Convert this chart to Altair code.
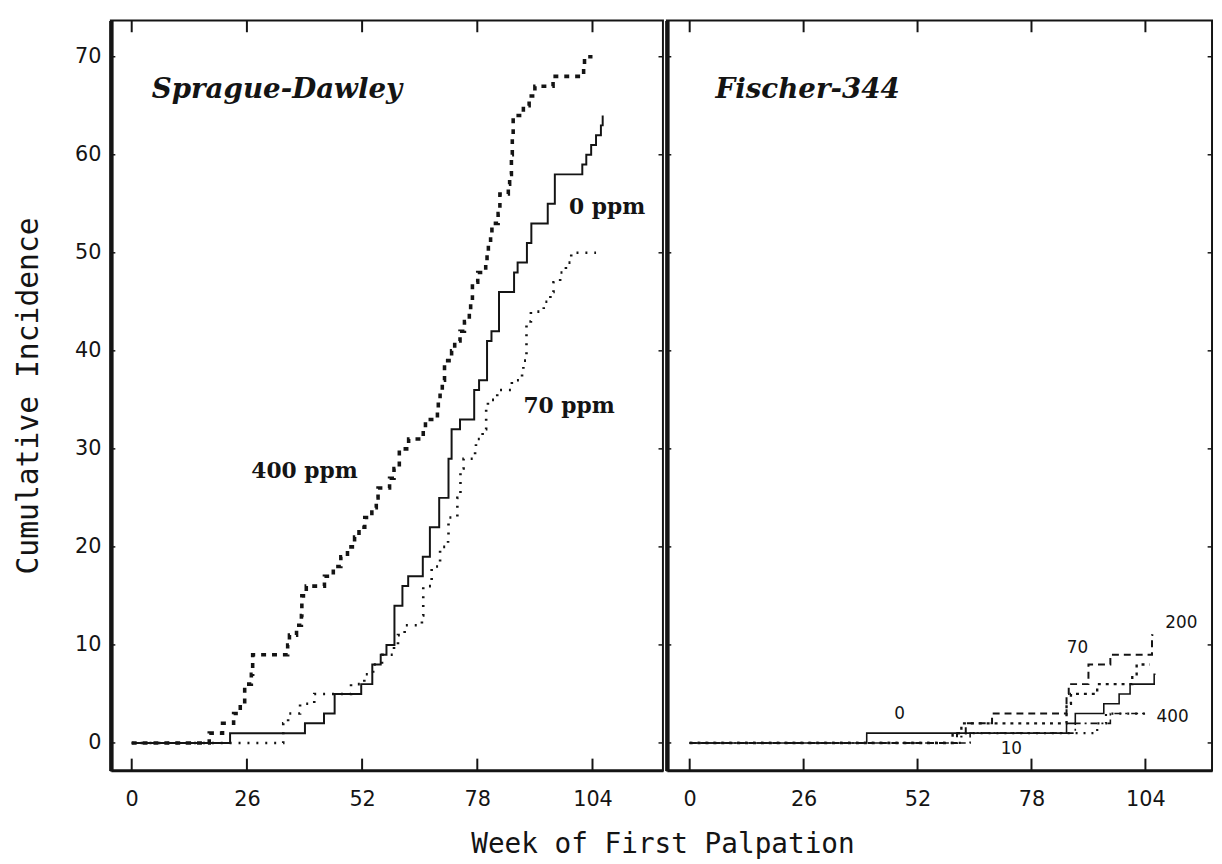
import altair as alt
import pandas as pd

INK = "#141414"

# ---------------- Sprague-Dawley (left panel) : week, cumulative incidence
sd_0_weeks = [0, 22.2, 39.1, 43.4, 45.8, 51.8, 54.3, 56.2, 57.5, 59.3, 61.1, 62.4, 65.7, 67.3,
              69.4, 71.5, 72.2, 74.1, 77.3, 78.4, 80.2, 81.2, 82.9, 86.3, 87.1, 89.2, 90.2,
              93.9, 95.5, 101.7, 102.6, 103.7, 104.8, 105.9, 106.3]
sd_0_counts = [0, 1, 2, 3, 5, 6, 8, 9, 10, 14, 16, 17, 19, 22,
               25, 29, 32, 33, 36, 37, 41, 42, 46, 48, 49, 51, 53,
               55, 58, 59, 60, 61, 62, 63, 64]

sd_70_weeks = [0, 34.2, 35.3, 38, 41.2, 49.5, 52.5, 54.5, 56.5, 59.2, 60.1, 61.6, 65.5, 65.8,
               67.7, 69.6, 71.4, 71.5, 73.5, 74.2, 74.9, 77.5, 77.7, 79.2, 80, 80.4, 82.5,
               85.8, 88.1, 88.4, 89.1, 90.1, 93, 94.5, 95.2, 96.7, 98, 99.2, 104.8]
sd_70_counts = [0, 2, 3, 4, 5, 6, 7, 8, 9, 10, 11, 12, 13, 16,
                18, 20, 21, 23, 25, 28, 29, 30, 31, 32, 34, 35, 36,
                37, 38, 39, 43, 44, 45, 46, 47, 48, 49, 50, 50]

sd_400_weeks = [0, 17.5, 20.5, 23, 24.5, 25.5, 27, 27.3, 35.2, 35.6, 37.2, 38.3, 38.4, 39.4,
                43.5, 45.5, 47.2, 48.7, 50.3, 51.3, 52.6, 54.2, 55.2, 55.6, 58.2, 59.2, 60.4,
                62.5, 65.8, 66.3, 69, 69.2, 69.6, 70.1, 70.6, 72.2, 72.9, 74.1, 75.1, 76.2,
                76.5, 76.9, 78.1, 79.9, 80.2, 80.5, 81, 81.3, 82.7, 83.1, 85, 85.3, 85.7,
                85.9, 86.1, 88.4, 89.7, 91, 95.1, 102, 102.2, 104]
sd_400_counts = [0, 1, 2, 3, 4, 6, 7, 9, 10, 11, 12, 13, 15, 16,
                 17, 18, 19, 20, 21, 22, 23, 24, 25, 26, 27, 28, 30,
                 31, 32, 33, 34, 35, 36, 37, 39, 40, 41, 42, 43, 44,
                 45, 47, 48, 49, 50, 51, 52, 53, 54, 56, 57, 58, 60,
                 62, 64, 65, 66, 67, 68, 69, 70, 70]

# ---------------- Fischer-344 (right panel)
f_0_weeks = [0, 40.4, 86, 88, 94.5, 98, 100.5, 106, 106.3]
f_0_counts = [0, 1, 2, 3, 4, 5, 6, 7, 7]
f_10_weeks = [0, 64, 88, 96, 104]
f_10_counts = [0, 1, 2, 3, 3]
f_70_weeks = [0, 60, 62, 86, 87, 93, 101, 102, 105]
f_70_counts = [0, 1, 2, 4, 5, 6, 7, 8, 8]
f_200_weeks = [0, 61, 63, 69, 86, 86.5, 91, 96, 105.5, 105.8]
f_200_counts = [0, 1, 2, 3, 5, 6, 8, 9, 11, 11]
f_400_weeks = [0, 62, 93, 95, 105]
f_400_counts = [0, 1, 2, 3, 3]

# ---------------- axis ticks / labels
x_ticks = [0, 26, 52, 78, 104]
y_ticks = [0, 10, 20, 30, 40, 50, 60, 70]

left_labels = ["0 ppm", "70 ppm", "400 ppm"]
left_label_weeks = [98.7, 88.4, 27.0]
left_label_counts = [54.7, 34.4, 27.7]

right_labels = ["0", "10", "70", "200", "400"]
right_label_weeks = [47.9, 73.4, 88.5, 112.2, 110.2]
right_label_counts = [2.9, -0.6, 9.7, 12.2, 2.6]

Y_MIN, Y_MAX = -2.8, 73.7
XL_MIN, XL_MAX = -4.7, 119.9
XR_MIN, XR_MAX = -5.2, 119.2
H = 758

ys = alt.Scale(domain=[Y_MIN, Y_MAX], nice=False, zero=False)
xsl = alt.Scale(domain=[XL_MIN, XL_MAX], nice=False, zero=False)
xsr = alt.Scale(domain=[XR_MIN, XR_MAX], nice=False, zero=False)

x_axis = alt.Axis(values=x_ticks, ticks=False, grid=False, domainWidth=3, domainColor=INK,
                  labelFontSize=21, labelFont="DejaVu Sans", labelColor=INK, labelPadding=18,
                  labelFlush=False, title=None)
y_axis_left = alt.Axis(values=y_ticks, ticks=False, grid=False, domainWidth=4.5, domainColor=INK,
                       labelFontSize=21, labelFont="DejaVu Sans", labelColor=INK, labelPadding=10,
                       title="Cumulative Incidence", titleFontSize=30, titleFont="DejaVu Sans Mono",
                       titleFontWeight="normal", titleColor=INK, titlePadding=31)
y_axis_right = alt.Axis(values=y_ticks, ticks=False, grid=False, domainWidth=4.5, domainColor=INK,
                        labels=False, title=None)


def sdf(weeks, counts):
    assert len(weeks) == len(counts)
    return pd.DataFrame({"week": weeks, "count": counts})


class Panel:
    def __init__(self, xs, xaxis, yaxis):
        self.xs, self.xaxis, self.yaxis = xs, xaxis, yaxis

    def X(self, f):
        return alt.X(f, scale=self.xs, axis=self.xaxis)

    def Y(self, f):
        return alt.Y(f, scale=ys, axis=self.yaxis)

    def line(self, df, width, dash=None):
        kw = dict(interpolate="step-after", color=INK, strokeWidth=width, clip=True)
        if dash is not None:
            kw["strokeDash"] = dash
        return alt.Chart(df).mark_line(**kw).encode(x=self.X("week:Q"), y=self.Y("count:Q"))

    def ticks(self, xmin, xmax):
        n = len(x_ticks)
        bottom = pd.DataFrame({"week": x_ticks, "y1": [Y_MIN] * n, "y2": [Y_MIN + 1.2] * n})
        top = pd.DataFrame({"week": x_ticks, "y1": [Y_MAX] * n, "y2": [Y_MAX - 1.2] * n})
        m = len(y_ticks)
        yl = pd.DataFrame({"count": y_ticks, "x1": [xmin] * m, "x2": [xmin + 1.0] * m})
        yr = pd.DataFrame({"count": y_ticks, "x1": [xmax] * m, "x2": [xmax - 1.0] * m})
        out = []
        for d in (bottom, top):
            out.append(alt.Chart(d).mark_rule(color=INK, strokeWidth=2).encode(
                x=self.X("week:Q"), y=self.Y("y1:Q"), y2="y2:Q"))
        for d in (yl, yr):
            out.append(alt.Chart(d).mark_rule(color=INK, strokeWidth=1.5).encode(
                y=self.Y("count:Q"), x=self.X("x1:Q"), x2="x2:Q"))
        return out

    def text(self, labels, weeks, counts, **kw):
        df = pd.DataFrame({"t": labels, "week": weeks, "count": counts})
        return alt.Chart(df).mark_text(color=INK, baseline="middle", **kw).encode(
            x=self.X("week:Q"), y=self.Y("count:Q"), text="t:N")


# ---------------- left panel
L = Panel(xsl, x_axis, y_axis_left)
left = alt.layer(
    L.line(sdf(sd_0_weeks, sd_0_counts), 2.0),
    L.line(sdf(sd_70_weeks, sd_70_counts), 2.6, dash=[2, 7]),
    L.line(sdf(sd_400_weeks, sd_400_counts), 3.6, dash=[5, 6]),
    *L.ticks(XL_MIN, XL_MAX),
    L.text(["Sprague-Dawley"], [4.5], [66.6], align="left", font="DejaVu Serif", fontSize=28,
           fontStyle="italic", fontWeight="bold"),
    L.text(left_labels, left_label_weeks, left_label_counts, align="left", font="DejaVu Serif",
           fontSize=22, fontWeight="bold"),
).properties(width=558, height=H)

# ---------------- right panel
R = Panel(xsr, x_axis, y_axis_right)
right = alt.layer(
    R.line(sdf(f_0_weeks, f_0_counts), 1.6),
    R.line(sdf(f_10_weeks, f_10_counts), 1.6, dash=[7, 4, 2, 4]),
    R.line(sdf(f_70_weeks, f_70_counts), 2.4, dash=[3, 5]),
    R.line(sdf(f_200_weeks, f_200_counts), 2.0, dash=[7, 5]),
    R.line(sdf(f_400_weeks, f_400_counts), 2.2, dash=[2, 6]),
    *R.ticks(XR_MIN, XR_MAX),
    R.text(["Fischer-344"], [5.9], [66.6], align="left", font="DejaVu Serif", fontSize=28,
           fontStyle="italic", fontWeight="bold"),
    R.text(right_labels, right_label_weeks, right_label_counts, align="center",
           font="DejaVu Sans", fontSize=17),
).properties(width=551, height=H)

chart = alt.hconcat(left, right, spacing=0).properties(
    title=alt.TitleParams("Week of First Palpation", orient="bottom", anchor="middle",
                          fontSize=28, font="DejaVu Sans Mono", fontWeight="normal", color=INK,
                          offset=22, dx=50),
    padding={"left": 5, "top": 6, "right": 0, "bottom": 0},
    background="white",
).configure_view(stroke=INK, strokeWidth=2)

chart.save("out.html", embed_options={"renderer": "svg", "actions": False})
